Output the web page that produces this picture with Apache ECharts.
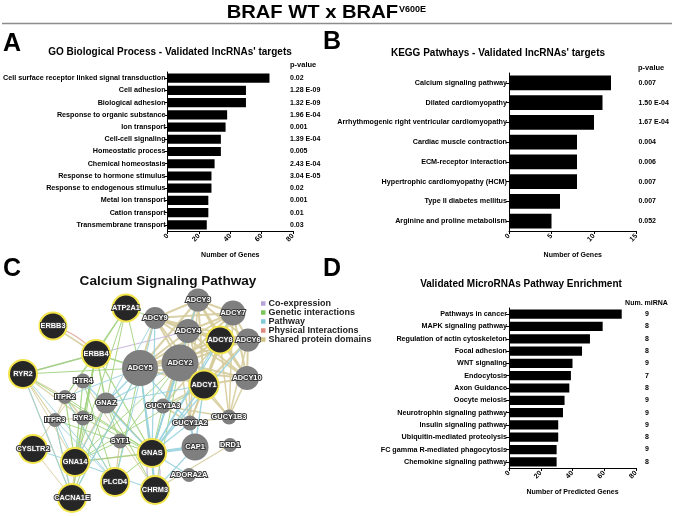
<!DOCTYPE html>
<html><head><meta charset="utf-8">
<script src="https://cdn.jsdelivr.net/npm/echarts@6/dist/echarts.min.js"></script>
<style>html,body{margin:0;padding:0;background:#fff}#c{width:675px;height:516px}</style>
</head><body><div id="c"></div>
<script>
// ---------- Panel A: GO Biological Process ----------
const goCategories = ['Cell surface receptor linked signal transduction','Cell adhesion','Biological adhesion','Response to organic substance','Ion transport','Cell-cell signaling','Homeostatic process','Chemical homeostasis','Response to hormone stimulus','Response to endogenous stimulus','Metal ion transport','Cation transport','Transmembrane transport'];
const goGenes = [65,50,50,38,37,34,34,30,28,28,26,26,25];
const goPvalues = ['0.02','1.28 E-09','1.32 E-09','1.96 E-04','0.001','1.39 E-04','0.005','2.43 E-04','3.04 E-05','0.02','0.001','0.01','0.03'];
const goTicks = [0,20,40,60,80];

// ---------- Panel B: KEGG ----------
const keggCategories = ['Calcium signaling pathway','Dilated cardiomyopathy','Arrhythmogenic right ventricular cardiomyopathy','Cardiac muscle contraction','ECM-receptor interaction','Hypertrophic cardiomyopathy (HCM)','Type II diabetes mellitus','Arginine and proline metabolism'];
const keggGenes = [12,11,10,8,8,8,6,5];
const keggPvalues = ['0.007','1.50 E-04','1.67 E-04','0.004','0.006','0.007','0.007','0.052'];
const keggTicks = [0,5,10,15];

// ---------- Panel D: microRNA pathways ----------
const mirCategories = ['Pathways in cancer','MAPK signaling pathway','Regulation of actin cytoskeleton','Focal adhesion','WNT signaling','Endocytosis','Axon Guidance','Oocyte meiosis','Neurotrophin signaling pathway','Insulin signaling pathway','Ubiquitin-mediated proteolysis','FC gamma R-mediated phagocytosis','Chemokine signaling pathway'];
const mirGenes = [71,59,51,46,40,39,38,35,34,31,31,30,30];
const mirNum = ['9','8','8','8','9','7','8','9','9','9','8','9','8'];
const mirTicks = [0,20,40,60,80];

// ---------- Panel C: network ----------
const netNodes = ['ATP2A1','ERBB3','ERBB4','RYR2','HTR4','ITPR2','GNAZ','ITPR3','RYR3','SYT1','CYSLTR2','GNA14','GNAS','PLCD4','CHRM3','CACNA1E','CAP1','DRD1','ADORA2A','GUCY1A3','GUCY1A2','GUCY1B3','ADCY5','ADCY2','ADCY1','ADCY10','ADCY8','ADCY6','ADCY4','ADCY9','ADCY3','ADCY7'];
const netX = [126,53,96,23,83,65,106,55,83,120,33,75,152,115,155,72,195,230,189,163,190,229,140,180,204,247,220,248,188,155,198,233];
const netY = [308,326,354,374,381,397,403,420,418,441,449,462,453,482,490,498,447,445,475,406,423,417,368,363,385,378,340,340,331,318,300,313];
const netSize = [27,27,28,28,15,14,21,14,15,15,28,28,28,28,28,28,27,14,14,15,15,15,36,37,29,24,27,23,24,22,23,25];
const netQuery = [1,1,1,1,0,0,0,0,0,0,1,1,1,1,1,1,0,0,0,0,0,0,0,0,1,0,1,0,0,0,0,0];

const edgeTypes = ['Co-expression','Genetic interactions','Pathway','Physical Interactions','Shared protein domains'];
const edgeColors = ['#c4b2dc','#9ed27c','#98d2de','#e09d93','#d6cc9c'];
const legendColors = ['#b9a2d8','#7cc65a','#82cad8','#de8a7e','#cfc386'];

const coexpEdges = [['ERBB4','ADCY4',1.2],['ERBB4','RYR2',1],['GNAS','CHRM3',1.2],['GNAS','CHRM3',1.2]];
const geneticEdges = [['ATP2A1','ERBB4',1.2],['ATP2A1','GNAZ',1],['ATP2A1','GNA14',1],['ATP2A1','ADCY5',1],['ATP2A1','ITPR2',1],['ERBB4','RYR2',1.5],['ERBB4','GNAZ',1.5],['ERBB4','ADCY5',1.5],['ERBB4','GNA14',1.5],['ERBB4','RYR3',1],['ERBB4','GNAS',1.2],['ERBB4','ITPR2',1],['ERBB4','CACNA1E',1],['RYR2','ADCY5',1],['RYR2','GNAS',1],['ITPR2','GNAS',1],['ITPR2','GNA14',1.2],['ITPR2','PLCD4',1],['HTR4','GNA14',1.2],['HTR4','PLCD4',1],['GNAZ','SYT1',1],['GNAZ','GNAS',1],['GNAZ','CHRM3',1],['GNAZ','CACNA1E',1],['GNA14','GNAS',1.2],['GNA14','SYT1',1],['GNA14','ADCY2',1],['PLCD4','ADCY5',1],['PLCD4','GNAS',1],['SYT1','ADCY2',1],['GNAS','ADCY2',1],['CHRM3','ADCY5',1],['CHRM3','ADCY2',1],['GNAS','GUCY1A3',1],['CACNA1E','ADCY5',1],['ITPR3','GNAS',1],['RYR3','GNAS',1],['GNA14','ADCY1',1],['ATP2A1','ADCY9',1]];
const pathwayEdges = [['GNAS','ADCY1',1.5],['GNAS','ADCY2',1.5],['GNAS','ADCY5',1.5],['GNAS','ADCY9',1.2],['GNAS','ADCY4',1.2],['GNAS','ADCY6',1.2],['GNAS','ADCY3',1.2],['GNAS','ADCY7',1.2],['GNAS','ADCY8',1.2],['GNAS','CAP1',3],['GNAS','GUCY1A2',1.2],['CAP1','ADCY1',1.5],['CAP1','GUCY1A2',2],['GNAZ','ADCY5',1.5],['GNAZ','ADCY1',1.2],['GNAZ','ADCY2',1.2],['CHRM3','GNAS',1.5],['CHRM3','GNA14',1.2],['CHRM3','ADCY5',1.2],['CHRM3','CAP1',1.2],['PLCD4','ITPR2',1],['PLCD4','ITPR3',1],['RYR2','CACNA1E',1],['ITPR3','GNA14',1],['CACNA1E','ADCY5',1.2],['ITPR3','CACNA1E',1],['CYSLTR2','GNA14',1],['HTR4','GNAS',1.2],['ADORA2A','GNAS',1.2],['RYR2','PLCD4',1],['ITPR2','ADCY5',1],['ADCY9','GNA14',1],['ADCY5','GUCY1A2',1.2],['ADCY8','GNAS',1],['ADCY9','PLCD4',1]];
const physicalEdges = [['ERBB3','ERBB4',1.2]];
const sharedEdges = [['ADCY1','ADCY2',2],['ADCY1','ADCY3',2],['ADCY1','ADCY4',2],['ADCY1','ADCY5',2],['ADCY1','ADCY6',2],['ADCY1','ADCY7',2],['ADCY1','ADCY8',2],['ADCY1','ADCY9',2],['ADCY1','ADCY10',2],['ADCY2','ADCY3',2],['ADCY2','ADCY4',2],['ADCY2','ADCY5',2],['ADCY2','ADCY6',2],['ADCY2','ADCY7',2],['ADCY2','ADCY8',2],['ADCY2','ADCY9',2],['ADCY2','ADCY10',2],['ADCY3','ADCY4',2],['ADCY3','ADCY5',2],['ADCY3','ADCY6',2],['ADCY3','ADCY7',2],['ADCY3','ADCY8',2],['ADCY3','ADCY9',2],['ADCY3','ADCY10',2],['ADCY4','ADCY5',2],['ADCY4','ADCY6',2],['ADCY4','ADCY7',2],['ADCY4','ADCY8',2],['ADCY4','ADCY9',2],['ADCY4','ADCY10',2],['ADCY5','ADCY6',2],['ADCY5','ADCY7',2],['ADCY5','ADCY8',2],['ADCY5','ADCY9',2],['ADCY5','ADCY10',2],['ADCY6','ADCY7',2],['ADCY6','ADCY8',2],['ADCY6','ADCY9',2],['ADCY6','ADCY10',2],['ADCY7','ADCY8',2],['ADCY7','ADCY9',2],['ADCY7','ADCY10',2],['ADCY8','ADCY9',2],['ADCY8','ADCY10',2],['ADCY9','ADCY10',2],['GUCY1A2','ADCY1',1.5],['GUCY1A2','ADCY2',1.5],['GUCY1A2','ADCY3',1.5],['GUCY1A2','ADCY4',1.5],['GUCY1A2','ADCY7',1.5],['GUCY1A2','ADCY8',1.5],['GUCY1B3','ADCY1',1.5],['GUCY1B3','ADCY6',1.5],['GUCY1B3','ADCY10',1.5],['GUCY1B3','ADCY7',1.5],['GUCY1B3','ADCY8',1.5],['GUCY1B3','ADCY2',1.5],['GUCY1A3','ADCY2',1.5],['GUCY1A3','ADCY4',1.5],['GUCY1A3','ADCY3',1.5],['GUCY1A3','ADCY8',1.5],['GUCY1A3','ADCY1',1.5],['GUCY1A3','GUCY1A2',1.5],['GUCY1A2','GUCY1B3',1.5],['GUCY1A3','GUCY1B3',1.5],['RYR2','RYR3',1.2],['RYR2','ITPR2',1.2],['RYR2','ITPR3',1.2],['RYR2','CACNA1E',1.2],['ITPR2','ITPR3',1.2],['ITPR2','RYR3',1.2],['ITPR3','RYR3',1.2],['ITPR3','CACNA1E',1.2],['RYR3','CACNA1E',1.2],['GNAS','GNA14',1.5],['GNAS','GNAZ',1.5],['GNAZ','GNA14',1.5],['ERBB3','ERBB4',1.5],['CHRM3','DRD1',1.2],['HTR4','CYSLTR2',1],['SYT1','PLCD4',1.2],['CYSLTR2','CACNA1E',1],['GNA14','CACNA1E',1.2],['HTR4','CHRM3',1],['RYR2','GNA14',1]];

const FONT = '"Liberation Sans", Arial, Helvetica, sans-serif';

const chart = echarts.init(document.getElementById('c'), null, {renderer: 'canvas'});

function catAxis(gridIndex, cats) {
  return {
    type: 'category', gridIndex, data: cats, inverse: true,
    axisLine: {show: true, lineStyle: {color: '#000', width: 1}},
    axisTick: {show: true, alignWithLabel: true, length: 3, lineStyle: {color: '#000'}},
    axisLabel: {interval: 0, margin: 2, color: '#000', fontSize: 7.2, fontWeight: 'bold', fontFamily: FONT},
    splitLine: {show: false}
  };
}
function sideAxis(gridIndex, labels, align, margin) {
  return {
    type: 'category', gridIndex, data: labels, inverse: true, position: 'right',
    axisLine: {show: false}, axisTick: {show: false}, splitLine: {show: false},
    axisLabel: {interval: 0, margin, align, color: '#000', fontSize: 7, fontWeight: 'bold', fontFamily: FONT}
  };
}
function valAxis(gridIndex, ticks, name) {
  return {
    type: 'value', gridIndex, min: ticks[0], max: ticks[ticks.length - 1], interval: ticks[1] - ticks[0],
    name, nameLocation: 'middle', nameGap: 21,
    nameTextStyle: {color: '#000', fontSize: 7, fontWeight: 'bold', fontFamily: FONT},
    axisLine: {show: true, lineStyle: {color: '#000', width: 1}},
    axisTick: {show: true, length: 3, lineStyle: {color: '#000'}},
    axisLabel: {rotate: 45, margin: 4, color: '#000', fontSize: 7, fontWeight: 'bold', fontFamily: FONT},
    splitLine: {show: false}
  };
}

// network nodes/links
const nodes = netNodes.map((n, i) => ({
  name: n, value: [netX[i], netY[i]], symbolSize: netSize[i],
  itemStyle: netQuery[i] ? {color: '#262626', borderColor: '#f2e44a', borderWidth: 2,
    decal: {symbol: 'rect', symbolSize: 1, color: 'rgba(255,255,255,0.08)', dashArrayX: [1, 0], dashArrayY: [2, 3], rotation: -Math.PI / 4}}
    : {color: '#7f7f7f', borderColor: '#8a8a8a', borderWidth: 0}
}));
const links = [];
[coexpEdges, geneticEdges, pathwayEdges, physicalEdges, sharedEdges].forEach((list, t) => {
  const seen = {};
  list.forEach(e => {
    const key = e[0] + '|' + e[1];
    const dup = seen[key] ? 1 : 0; seen[key] = 1;
    const curv = (t === 0 && e[0] === 'GNAS') ? (dup ? -0.35 : 0.35) : (t === 3 ? 0.15 : 0);
    links.push({source: e[0], target: e[1], lineStyle: {color: edgeColors[t], width: e[2], opacity: 0.9, curveness: curv}});
  });
});
links.sort((a, b) => (a.lineStyle.color === edgeColors[4] ? 0 : 1) - (b.lineStyle.color === edgeColors[4] ? 0 : 1));

const txt = (x, y, text, size, align, extra) => ({
  type: 'text', x, y,
  style: Object.assign({text, fill: '#000', fontSize: size, fontWeight: 'bold', fontFamily: FONT,
    align: align, textAlign: align, verticalAlign: 'middle', textVerticalAlign: 'middle'}, extra || {})
});

const option = {
  animation: false,
  backgroundColor: '#fff',
  grid: [
    {left: 166, top: 72, width: 127, height: 159},
    {left: 509, top: 73, width: 127.5, height: 158},
    {left: 509, top: 308, width: 127, height: 160},
    {left: 0, top: 0, width: 675, height: 516}
  ],
  xAxis: [
    valAxis(0, goTicks, 'Number of Genes'),
    valAxis(1, keggTicks, 'Number of Genes'),
    valAxis(2, mirTicks, 'Number of Predicted Genes'),
    {type: 'value', gridIndex: 3, min: 0, max: 675, show: false}
  ],
  yAxis: [
    catAxis(0, goCategories),
    catAxis(1, keggCategories),
    catAxis(2, mirCategories),
    {type: 'value', gridIndex: 3, min: 0, max: 516, inverse: true, show: false},
    sideAxis(0, goPvalues, 'left', -3),
    sideAxis(1, keggPvalues, 'left', 2),
    sideAxis(2, mirNum, 'center', 11)
  ],
  legend: {
    orient: 'vertical', left: 261, top: 299, icon: 'rect', itemWidth: 4.5, itemHeight: 4.5, itemGap: 0,
    padding: 0, selectedMode: false,
    textStyle: {fontSize: 9, lineHeight: 8.7, color: '#222', fontFamily: FONT, fontWeight: 'bold', padding: [0, 0, 0, -2]},
    data: edgeTypes
  },
  series: [
    {type: 'bar', xAxisIndex: 0, yAxisIndex: 0, data: goGenes, barCategoryGap: '25%', itemStyle: {color: '#000'}, silent: true},
    {type: 'bar', xAxisIndex: 1, yAxisIndex: 1, data: keggGenes, barCategoryGap: '26%', itemStyle: {color: '#000'}, silent: true},
    {type: 'bar', xAxisIndex: 2, yAxisIndex: 2, data: mirGenes, barCategoryGap: '25%', itemStyle: {color: '#000'}, silent: true},
    {
      type: 'graph', coordinateSystem: 'cartesian2d', xAxisIndex: 3, yAxisIndex: 3, layout: 'none',
      symbol: 'circle', data: nodes, links, silent: true, z: 3,
      label: {show: true, position: 'inside', formatter: '{b}', color: '#fff', fontSize: 7.4, fontWeight: 'bold',
        fontFamily: FONT, textBorderColor: '#3a3a3a', textBorderWidth: 2},
      emphasis: {disabled: true}
    }
  ].concat(edgeTypes.map((n, i) => ({
    type: 'line', name: n, xAxisIndex: 3, yAxisIndex: 3, data: [],
    itemStyle: {color: legendColors[i]}, lineStyle: {color: legendColors[i]}
  }))),
  graphic: [
    {type: 'text', x: 398, y: 13, scaleX: 1.12, originX: 0, originY: 0, style: {text: 'BRAF WT x BRAF', fill: '#000', fontSize: 18, fontWeight: 'bold', fontFamily: FONT, align: 'right', textAlign: 'right', verticalAlign: 'middle', textVerticalAlign: 'middle'}},
    {type: 'text', x: 399, y: 5, style: {text: 'V600E', fill: '#000', fontSize: 9, fontWeight: 'bold', fontFamily: FONT, align: 'left', textAlign: 'left', verticalAlign: 'top', textVerticalAlign: 'top'}},
    {type: 'line', shape: {x1: 2, y1: 23.5, x2: 672, y2: 23.5}, style: {stroke: '#8c8c8c', lineWidth: 1.5}},
    txt(3, 44, 'A', 25, 'left'),
    txt(323, 42, 'B', 25, 'left'),
    txt(3, 269, 'C', 25, 'left'),
    txt(323, 269, 'D', 25, 'left'),
    txt(170, 52, "GO Biological Process - Validated lncRNAs' targets", 10, 'center'),
    txt(498, 53, "KEGG Patwhays - Validated lncRNAs' targets", 10, 'center'),
    txt(168, 281, 'Calcium Signaling Pathway', 13.6, 'center', {fill: '#111'}),
    txt(521, 284, 'Validated MicroRNAs Pathway Enrichment', 10, 'center'),
    txt(290, 65, 'p-value', 7.5, 'left'),
    txt(638, 68, 'p-value', 7.5, 'left'),
    txt(646.5, 303, 'Num. miRNA', 7, 'center')
  ]
};
chart.setOption(option);
</script>
</body></html>
